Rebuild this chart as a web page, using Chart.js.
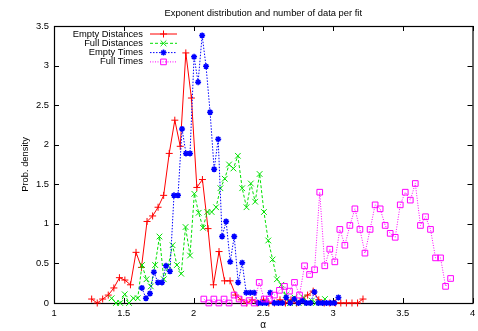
<!DOCTYPE html>
<html>
<head>
<meta charset="utf-8">
<script src="https://cdn.jsdelivr.net/npm/chart.js@4/dist/chart.umd.min.js"></script>
<style>
  html, body { margin: 0; padding: 0; background: #fff; }
  #wrap { width: 478px; height: 331px; }
</style>
</head>
<body>
<div id="wrap"><canvas id="c" width="478" height="331"></canvas></div>
<script>
// ---- text ----
const chartTitle = 'Exponent distribution and number of data per fit';
const xAxisLabel = 'α';
const yAxisLabel = 'Prob. density';
const seriesNames = ['Empty Distances', 'Full Distances', 'Empty Times', 'Full Times'];

// ---- tick labels ----
const xTickValues = [1, 1.5, 2, 2.5, 3, 3.5, 4];
const yTickValues = [0, 0.5, 1, 1.5, 2, 2.5, 3, 3.5];

// ---- Empty Distances ----
const emptyDistAlpha = [1.270,1.310,1.349,1.389,1.429,1.469,1.508,1.548,1.588,1.627,1.667,1.707,1.746,1.786,1.826,1.866,1.905,1.945,1.985,2.024,2.064,2.104,2.143,2.183,2.223,2.262,2.302,2.342,2.382,2.421,2.461,2.501,2.540,2.580,2.620,2.659,2.699,2.739,2.779,2.818,2.858,2.898,2.937,2.977,3.017,3.056,3.096,3.136,3.176,3.215];
const emptyDistDensity = [0.05,0.00,0.05,0.10,0.19,0.32,0.29,0.23,0.64,0.45,1.03,1.10,1.21,1.36,1.89,2.31,1.98,3.16,2.59,1.46,1.56,0.94,0.23,0.65,0.28,0.28,0.10,0.04,0.00,0.04,0.00,0.04,0.00,0.00,0.04,0.00,0.04,0.00,0.05,0.10,0.15,0.04,0.00,0.00,0.00,0.00,0.00,0.00,0.00,0.05];

// ---- Full Distances ----
const fullDistAlpha = [1.413,1.444,1.475,1.507,1.538,1.569,1.600,1.631,1.663,1.694,1.725,1.756,1.787,1.819,1.850,1.881,1.912,1.943,1.975,2.006,2.037,2.068,2.099,2.130,2.162,2.193,2.224,2.255,2.286,2.318,2.349,2.380,2.411,2.442,2.474,2.505,2.536,2.567,2.598,2.630,2.661,2.692,2.723,2.754,2.786,2.817,2.848,2.879,2.910,2.942];
const fullDistDensity = [0.06,0.00,0.00,0.11,0.00,0.06,0.06,0.48,0.30,0.21,0.48,0.84,0.30,0.47,0.73,0.48,0.37,0.96,0.60,1.38,1.14,0.95,1.15,1.15,1.21,1.45,1.57,1.75,1.70,1.86,1.45,1.21,1.51,1.28,1.63,1.15,0.79,0.55,0.30,0.23,0.10,0.00,0.07,0.00,0.07,0.00,0.03,0.00,0.00,0.05];

// ---- Empty Times ----
const emptyTimeAlpha = [1.630,1.659,1.688,1.716,1.745,1.774,1.803,1.831,1.860,1.889,1.918,1.946,1.975,2.004,2.033,2.062,2.090,2.119,2.148,2.177,2.205,2.234,2.263,2.292,2.320,2.349,2.378,2.407,2.435,2.464,2.493,2.522,2.550,2.579,2.608,2.637,2.665,2.694,2.723,2.752,2.780,2.809,2.838,2.867,2.895,2.924,2.953,2.982,3.010,3.039];
const emptyTimeDensity = [0.19,0.06,0.12,0.39,0.26,0.26,0.47,0.40,1.36,1.36,2.20,1.89,1.89,3.11,2.79,3.38,2.99,2.41,1.69,2.07,0.84,1.03,0.52,0.84,0.26,0.51,0.13,0.13,0.13,0.00,0.00,0.00,0.13,0.00,0.00,0.00,0.07,0.00,0.05,0.00,0.03,0.00,0.00,0.14,0.00,0.00,0.00,0.00,0.00,0.07];

// ---- Full Times ----
const fullTimeAlpha = [2.074,2.110,2.146,2.182,2.219,2.255,2.291,2.327,2.363,2.399,2.435,2.471,2.507,2.543,2.580,2.616,2.652,2.688,2.724,2.760,2.796,2.832,2.868,2.905,2.941,2.977,3.013,3.049,3.085,3.121,3.157,3.193,3.229,3.266,3.302,3.338,3.374,3.410,3.446,3.482,3.518,3.554,3.590,3.627,3.663,3.699,3.735,3.771,3.807,3.843];
const fullTimeDensity = [0.05,0.00,0.05,0.00,0.05,0.00,0.10,0.05,0.00,0.03,0.00,0.26,0.05,0.05,0.10,0.16,0.21,0.15,0.26,0.10,0.47,0.36,0.42,1.40,0.47,0.68,0.52,0.93,0.73,0.98,1.19,0.93,0.63,0.93,1.24,1.19,0.98,0.88,0.83,1.24,1.40,1.30,1.51,0.98,1.09,0.93,0.57,0.57,0.21,0.31];

const FONT_FAMILY = '"Liberation Sans", Arial, Helvetica, sans-serif';
const FONT_SIZE = 9.4;

function toPoints(xs, ys) {
  return xs.map((x, i) => ({ x: x, y: ys[i] }));
}

function series(label, xs, ys, color, dash, pointStyle, radius, pointWidth, order) {
  return {
    label: label,
    data: toPoints(xs, ys),
    showLine: true,
    borderColor: color,
    backgroundColor: 'rgba(0,0,0,0)',
    borderWidth: 1,
    borderDash: dash,
    pointStyle: pointStyle,
    pointRadius: radius,
    pointBorderColor: color,
    pointBackgroundColor: 'rgba(0,0,0,0)',
    pointBorderWidth: pointWidth,
    tension: 0,
    clip: false,
    order: order
  };
}

const datasets = [
  series(seriesNames[0], emptyDistAlpha, emptyDistDensity, '#ff0000', [], 'cross', 3.5, 1, 4),
  series(seriesNames[1], fullDistAlpha, fullDistDensity, '#00e000', [3, 2], 'crossRot', 4, 1, 3),
  series(seriesNames[2], emptyTimeAlpha, emptyTimeDensity, '#0000ff', [1.5, 1.5], 'star', 3, 1.5, 2),
  series(seriesNames[3], fullTimeAlpha, fullTimeDensity, '#ff00ff', [1, 1.5], 'rect', 4, 1, 1)
];

// Frame with inward ticks on all four sides, plus title, axis names and key
const framePlugin = {
  id: 'frame',
  beforeDatasetsDraw(chart) {
    const { ctx, chartArea: a, scales } = chart;
    const len = 5;
    ctx.save();
    ctx.strokeStyle = '#000';
    ctx.lineWidth = 1;
    ctx.beginPath();
    xTickValues.forEach(v => {
      const px = Math.round(scales.x.getPixelForValue(v)) + 0.5;
      ctx.moveTo(px, a.bottom); ctx.lineTo(px, a.bottom - len);
      ctx.moveTo(px, a.top); ctx.lineTo(px, a.top + len);
    });
    yTickValues.forEach(v => {
      const py = Math.round(scales.y.getPixelForValue(v)) + 0.5;
      ctx.moveTo(a.left, py); ctx.lineTo(a.left + len, py);
      ctx.moveTo(a.right, py); ctx.lineTo(a.right - len, py);
    });
    ctx.stroke();
    ctx.lineWidth = 1.2;
    ctx.strokeRect(a.left + 0.5, a.top + 0.5, a.right - a.left, a.bottom - a.top);
    ctx.restore();
  },
  afterDraw(chart) {
    const { ctx, chartArea: a } = chart;
    ctx.save();
    ctx.fillStyle = '#000';
    ctx.font = FONT_SIZE + 'px ' + FONT_FAMILY;

    // title
    ctx.textAlign = 'center';
    ctx.textBaseline = 'middle';
    ctx.fillText(chartTitle, (a.left + a.right) / 2, 13);

    // x axis name
    ctx.font = '10px ' + FONT_FAMILY;
    ctx.fillText(xAxisLabel, (a.left + a.right) / 2, 325);

    // y axis name
    ctx.font = FONT_SIZE + 'px ' + FONT_FAMILY;
    ctx.save();
    ctx.translate(25, (a.top + a.bottom) / 2);
    ctx.rotate(-Math.PI / 2);
    ctx.fillText(yAxisLabel, 0, 0);
    ctx.restore();

    // key, top left inside the frame
    const textRight = a.left + 89;
    const sampleL = a.left + 96, sampleR = a.left + 123;
    chart.data.datasets.forEach((ds, i) => {
      const y = a.top + 8 + i * 9.3;
      ctx.textAlign = 'right';
      ctx.textBaseline = 'middle';
      ctx.fillStyle = '#000';
      ctx.fillText(ds.label, textRight, y);
      ctx.save();
      ctx.strokeStyle = ds.borderColor;
      ctx.lineWidth = ds.borderWidth;
      ctx.setLineDash(ds.borderDash);
      ctx.beginPath();
      ctx.moveTo(sampleL, y);
      ctx.lineTo(sampleR, y);
      ctx.stroke();
      ctx.setLineDash([]);
      ctx.lineWidth = ds.pointBorderWidth;
      ctx.fillStyle = ds.pointBackgroundColor;
      Chart.helpers.drawPoint(ctx, {
        pointStyle: ds.pointStyle,
        radius: ds.pointRadius,
        rotation: 0,
        borderWidth: ds.pointBorderWidth
      }, (sampleL + sampleR) / 2, y);
      ctx.restore();
    });
    ctx.restore();
  }
};

new Chart(document.getElementById('c'), {
  type: 'scatter',
  data: { datasets: datasets },
  options: {
    responsive: false,
    animation: false,
    devicePixelRatio: 1,
    layout: { padding: { left: 0, top: 26, right: 5, bottom: 0 } },
    plugins: {
      legend: { display: false },
      title: { display: false },
      tooltip: { enabled: false }
    },
    scales: {
      x: {
        type: 'linear',
        min: 1,
        max: 4,
        grid: { display: false, drawTicks: false },
        border: { display: false },
        afterBuildTicks: s => { s.ticks = xTickValues.map(v => ({ value: v })); },
        afterFit: s => { s.height = 28; s.paddingLeft = 0; s.paddingRight = 0; },
        ticks: {
          autoSkip: false,
          maxRotation: 0,
          padding: 5,
          color: '#000',
          font: { family: FONT_FAMILY, size: FONT_SIZE },
          callback: v => String(v)
        }
      },
      y: {
        type: 'linear',
        min: 0,
        max: 3.5,
        grid: { display: false, drawTicks: false },
        border: { display: false },
        afterBuildTicks: s => { s.ticks = yTickValues.map(v => ({ value: v })); },
        afterFit: s => { s.width = 54; s.paddingTop = 0; s.paddingBottom = 0; },
        ticks: {
          autoSkip: false,
          padding: 5,
          color: '#000',
          font: { family: FONT_FAMILY, size: FONT_SIZE },
          callback: v => String(v)
        }
      }
    }
  },
  plugins: [framePlugin]
});
</script>
</body>
</html>
